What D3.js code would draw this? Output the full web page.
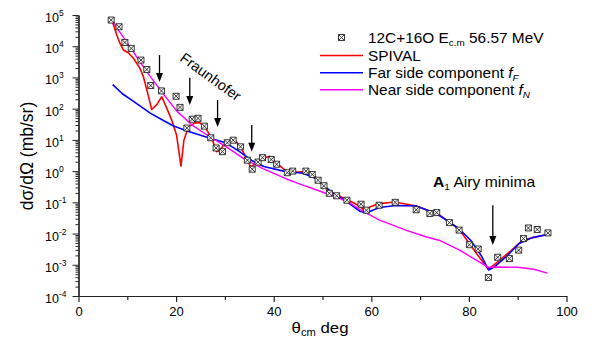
<!DOCTYPE html>
<html>
<head>
<meta charset="utf-8">
<script src="https://cdn.jsdelivr.net/npm/d3@7"></script>
<style>
  body { margin: 0; background: #fff; }
  text { font-family: "Liberation Sans", Arial, sans-serif; fill: #000; }
</style>
</head>
<body>
<svg id="chart" width="595" height="345"></svg>
<script>
// Measured angular distribution, 12C+16O at Ec.m = 56.57 MeV (theta in deg, sigma in mb/sr)
const expAngles = [6.7, 8.3, 9.5, 10.8, 12.8, 14.0, 14.8, 17.0, 20.0, 20.8, 22.2, 23.3, 24.5, 25.8, 27.1, 28.2,
  29.5, 30.5, 31.7, 33.2, 34.6, 35.6, 36.8, 37.7, 39.5, 40.6, 42.8, 43.9, 46.6, 47.9, 49.1, 50.3, 51.4, 52.9,
  55.0, 57.9, 59.0, 61.6, 64.9, 69.2, 72.0, 73.4, 76.0, 78.0, 80.1, 81.9, 84.0, 85.9, 88.3, 90.2, 91.2, 92.2,
  94.0, 96.2];
const expSigma = [6.9e4, 4.2e4, 1.32e4, 8.5e3, 3.6e3, 1.8e3, 550, 370, 250, 110, 24, 46, 49, 27.5, 11.7, 5.5,
  4.2, 8.1, 9.8, 6.0, 2.24, 1.15, 1.95, 2.7, 2.35, 1.66, 0.89, 1.0, 1.0, 0.78, 0.51, 0.34, 0.195, 0.162,
  0.117, 0.087, 0.056, 0.081, 0.100, 0.058, 0.044, 0.047, 0.0224, 0.0129, 0.0044, 0.0032, 3.9e-4, 1.74e-3,
  1.58e-3, 2.95e-3, 6.9e-3, 0.0151, 0.0135, 0.0105];

// SPIVAL calculation
const spivalAngles = [6.6, 6.95, 7.85, 8.5, 9.2, 10.2, 11.25, 12.6, 13.3, 14.0, 15.0, 16.0, 17.05, 18.1, 19.1,
  20.1, 21.0, 21.6, 22.5, 23.9, 24.9, 25.9, 27.3, 28.3, 29.0, 30.0, 31.4, 32.25, 33.3, 34.3, 35.3, 36.3, 37.8,
  39.2, 40.6, 42.3, 43.7, 45.3, 46.9, 48.3, 49.8, 51.5, 53.5, 55.3, 57.6, 58.6, 59.6, 61.6, 64.8, 69.2, 71.8,
  74.0, 76.0, 78.1, 80.1, 82.1, 84.0, 85.9, 88.3, 91.0, 93.7, 96.1];
const spivalSigma = [7.2e4, 6.2e4, 2.3e4, 1.23e4, 7.6e3, 6.2e3, 4.1e3, 1.95e3, 1.05e3, 400, 95, 132, 240, 102, 43,
  14, 1.45, 9.8, 26, 35, 35, 26, 11.2, 4.2, 4.7, 7.8, 10.2, 9.1, 5.5, 2.8, 1.35, 1.8, 2.6,
  3.0, 1.8, 1.07, 0.93, 0.93, 1.0, 0.74, 0.38, 0.214, 0.158, 0.117, 0.076, 0.054, 0.069, 0.091, 0.102, 0.076, 0.054,
  0.039, 0.0234, 0.0129, 0.0048, 1.78e-3, 7.1e-4, 1.23e-3, 2.57e-3, 6.2e-3, 7.8e-3, 9.3e-3];

// Far side component f_F
const farAngles = [7.0, 9.0, 11.2, 14.7, 17.4, 19.5, 22.4, 26.5, 30.3, 33.0, 35.5, 38.0, 42.0, 46.0, 48.4, 50.1,
  52.2, 54.9, 57.6, 59.0, 61.7, 65.0, 69.2, 73.3, 76.0, 78.0, 80.4, 82.5, 84.05, 85.2, 87.6, 90.3, 93.0, 96.1];
const farSigma = [590, 300, 174, 72, 42, 28, 19, 12, 7.9, 4.2, 2.2, 1.41, 1.0, 0.85, 0.60, 0.36,
  0.195, 0.107, 0.052, 0.046, 0.068, 0.079, 0.076, 0.044, 0.0234, 0.0141, 6.0e-3, 2.0e-3, 6.8e-4, 8.5e-4, 1.78e-3, 4.8e-3, 7.4e-3, 9.3e-3];

// Near side component f_N
const nearAngles = [6.6, 8.5, 10.9, 11.9, 14.0, 17.0, 20.1, 23.5, 26.9, 30.3, 33.7, 37.8, 42.6, 44.7, 50.1, 53.5,
  55.6, 57.6, 59.0, 61.7, 67.2, 71.2, 74.0, 78.1, 81.5, 84.0, 86.0, 90.0, 93.3, 96.1];
const nearSigma = [7.9e4, 2.8e4, 7.9e3, 4.6e3, 1.5e3, 355, 85, 28, 12.6, 6.0, 2.6, 1.2, 0.56, 0.42, 0.21, 0.135,
  0.095, 0.060, 0.045, 0.027, 0.0126, 7.9e-3, 6.0e-3, 2.95e-3, 1.41e-3, 8.3e-4, 8.5e-4, 8.3e-4, 7.2e-4, 5.4e-4];

// Axis ticks
const xMajorTicks = [0, 20, 40, 60, 80, 100];
const xMinorTicks = [10, 30, 50, 70, 90];
const yExponents = [5, 4, 3, 2, 1, 0, -1, -2, -3, -4];

// Fraunhofer arrows (angle, upper and lower sigma) and the Airy minimum arrow
const fraunhoferArrowAngles = [16.6, 22.8, 28.5, 35.5];
const fraunhoferArrowTops = [5.2e3, 980, 190, 30];
const fraunhoferArrowTips = [720, 132, 26, 4.2];
const airyArrow = [84.9, 0.081, 4.3e-3];

const svg = d3.select("#chart");
const x = d3.scaleLinear().domain([0, 100]).range([78.5, 566.5]);
const y = d3.scaleLog().domain([1e-4, 1e5]).range([296, 15]);

const axisColor = "#222";

// ----- x axis -----
const xAxisG = svg.append("g").attr("transform", `translate(0,${y(1e-4)})`);
xAxisG.call(d3.axisBottom(x).tickValues(xMajorTicks).tickSize(6).tickSizeOuter(0).tickFormat(d3.format("d")));
xAxisG.append("g").call(d3.axisBottom(x).tickValues(xMinorTicks).tickSize(4).tickSizeOuter(0).tickFormat(""));
xAxisG.selectAll("path.domain").attr("stroke", axisColor).attr("stroke-width", 1.2);
xAxisG.selectAll("line").attr("stroke", axisColor).attr("stroke-width", 1.2);
xAxisG.selectAll("text").attr("font-size", 13).attr("dy", 0).attr("y", 20)
  .style("font-family", '"Liberation Sans", Arial, sans-serif').attr("fill", "#000");

// ----- y axis -----
const yMinor = [];
yExponents.slice(0, -1).forEach(e => { for (let m = 2; m <= 9; m++) yMinor.push(m * Math.pow(10, e - 1)); });
const yMajorVals = yExponents.map(e => Math.pow(10, e));
const yAxisG = svg.append("g").attr("transform", `translate(${x(0)},0)`);
yAxisG.call(d3.axisLeft(y).tickValues(yMajorVals).tickSize(6).tickSizeOuter(0).tickFormat(""));
yAxisG.append("g").call(d3.axisLeft(y).tickValues(yMinor).tickSize(3).tickSizeOuter(0).tickFormat(""));
yAxisG.selectAll("path.domain").attr("stroke", axisColor).attr("stroke-width", 1.2);
yAxisG.selectAll("line").attr("stroke", axisColor).attr("stroke-width", 1);

// y tick labels 10^n
yExponents.forEach(e => {
  const t = svg.append("text")
    .attr("transform", `translate(45,${y(Math.pow(10, e)) + 7})`)
    .attr("font-size", 12.5);
  t.append("tspan").text("10");
  t.append("tspan").attr("font-size", 8.5).attr("dy", -6).text(e);
});

// axis titles
const xt = svg.append("text").attr("transform", `translate(320,333) scale(1.12,1)`)
  .attr("text-anchor", "middle").attr("font-size", 15);
xt.append("tspan").text("θ");
xt.append("tspan").attr("font-size", 10).attr("dy", 3).text("cm");
xt.append("tspan").attr("dy", -3).text(" deg");

svg.append("text").attr("transform", `translate(33,156) rotate(-90)`)
  .attr("text-anchor", "middle").attr("font-size", 17.5).text("dσ/dΩ (mb/sr)");

// ----- curves -----
const line = d3.line().x(d => x(d[0])).y(d => y(d[1]));
const series = [
  { a: spivalAngles, s: spivalSigma, color: "#ff0000", w: 1.6 },
  { a: farAngles, s: farSigma, color: "#0000ff", w: 1.6 },
  { a: nearAngles, s: nearSigma, color: "#ff00ff", w: 1.4 }
];
series.forEach(c => {
  svg.append("path").datum(d3.zip(c.a, c.s)).attr("d", line)
    .attr("fill", "none").attr("stroke", c.color).attr("stroke-width", c.w)
    .attr("stroke-linejoin", "round");
});

// ----- data markers -----
const marker = "M-3,-3H3V3H-3Z M-3,-3L3,3 M3,-3L-3,3";
svg.append("g").selectAll("path").data(d3.zip(expAngles, expSigma)).join("path")
  .attr("transform", d => `translate(${x(d[0])},${y(d[1])})`)
  .attr("d", marker).attr("fill", "#fff").attr("stroke", "#222").attr("stroke-width", 0.9);

// ----- arrows -----
function arrow(theta, top, tip) {
  const px = x(theta), y0 = y(top), y1 = y(tip);
  svg.append("line").attr("x1", px).attr("x2", px).attr("y1", y0).attr("y2", y1 - 7)
    .attr("stroke", "#000").attr("stroke-width", 1.3);
  svg.append("path").attr("d", `M${px - 3.5},${y1 - 9}L${px + 3.5},${y1 - 9}L${px},${y1}Z`).attr("fill", "#000");
}
fraunhoferArrowAngles.forEach((a, i) => arrow(a, fraunhoferArrowTops[i], fraunhoferArrowTips[i]));
arrow(airyArrow[0], airyArrow[1], airyArrow[2]);

// ----- annotations -----
svg.append("text").attr("transform", "translate(179,60) rotate(36)")
  .attr("font-size", 14.5).text("Fraunhofer");

const airy = svg.append("text").attr("transform", "translate(433,187) scale(1.12,1)").attr("font-size", 14);
airy.append("tspan").attr("font-weight", "bold").text("A");
airy.append("tspan").attr("font-size", 9).attr("dy", 3).text("1");
airy.append("tspan").attr("dy", -3).text(" Airy minima");

// ----- legend -----
const lg = svg.append("g");
lg.append("path").attr("transform", "translate(341.5,37.5)").attr("d", marker)
  .attr("fill", "#fff").attr("stroke", "#222").attr("stroke-width", 0.9);
const rowY = [37.5, 55.5, 72.8, 89.8];
series.forEach((c, i) => {
  lg.append("line").attr("x1", 320).attr("x2", 363).attr("y1", rowY[i + 1]).attr("y2", rowY[i + 1])
    .attr("stroke", c.color).attr("stroke-width", c.w);
});
function legendText(yy) {
  return lg.append("text").attr("transform", `translate(368,${yy + 5}) scale(1.1,1)`).attr("font-size", 14);
}
const l0 = legendText(rowY[0]);
l0.append("tspan").text("12C+16O E");
l0.append("tspan").attr("font-size", 9).attr("dy", 3).text("c.m");
l0.append("tspan").attr("dy", -3).text(" 56.57 MeV");
legendText(rowY[1]).text("SPIVAL");
const l2 = legendText(rowY[2]);
l2.append("tspan").text("Far side component ");
l2.append("tspan").attr("font-style", "italic").text("f");
l2.append("tspan").attr("font-size", 9).attr("font-style", "italic").attr("dy", 3).text("F");
const l3 = legendText(rowY[3]);
l3.append("tspan").text("Near side component ");
l3.append("tspan").attr("font-style", "italic").text("f");
l3.append("tspan").attr("font-size", 9).attr("font-style", "italic").attr("dy", 3).text("N");
</script>
</body>
</html>
